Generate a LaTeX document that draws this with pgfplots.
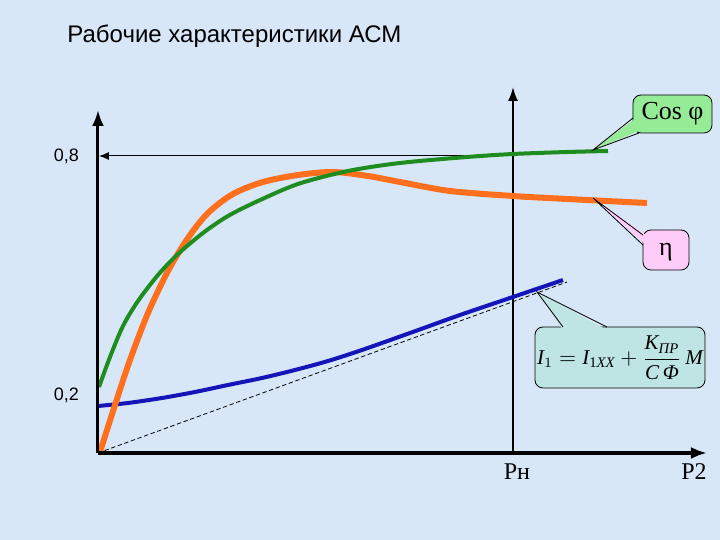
\documentclass[border=0pt]{standalone}
\usepackage{fontspec}
\setmainfont{Liberation Serif}
\newfontfamily\sansf{Liberation Sans}
\usepackage{amsmath}
\usepackage{pgfplots}
\pgfplotsset{compat=1.18}
\usetikzlibrary{arrows.meta}

\definecolor{bgblue}{RGB}{216,231,247}
\definecolor{cgreen}{RGB}{30,140,30}
\definecolor{corange}{RGB}{255,112,30}
\definecolor{cblue}{RGB}{20,20,185}
\definecolor{boxgreen}{RGB}{150,236,150}
\definecolor{boxpink}{RGB}{255,204,250}
\definecolor{boxteal}{RGB}{190,228,228}

\newcommand\ti[1]{\text{\itshape #1}}

% curves, in picture pixels measured from the origin of the axes
\pgfplotstableread{
x y
1 66
12 96
25 127
40 152
60 178
80 199
105 220
130 237
160 252
200 269
250 282
302 290
369 296
415 299
469 301
510 302
}\cosphi
\pgfplotstableread{
x y
2 1
17 48
32 93
50 140
70 182
90 215
110 240
135 259
165 271
200 278
235 281
270 277
302 271
352 262
415 257
469 254
549 250
}\eta
\pgfplotstableread{
x y
0 47
30 50
64 55
97 61
130 68
164 75
197 83
230 92
264 103
312 120
362 138
415 156
465 173
}\current

\begin{document}
\begin{tikzpicture}
\begin{axis}[
    scale only axis,
    x=0.5pt, y=0.5pt,
    xmin=0, xmax=609,
    ymin=0, ymax=343,
    axis lines=left,
    axis on top,
    clip=false,
    x axis line style={line width=2pt, -{Latex[length=8pt,width=6pt]}},
    y axis line style={line width=1.5pt, -{Latex[length=8pt,width=6pt]}},
    major tick length=0pt,
    ytick={58,297},
    yticklabels={{0,2},{0,8}},
    yticklabel style={font=\sansf\fontsize{9}{10}\selectfont, xshift=-6pt},
    xtick={419,596},
    xticklabels={Pн,P2},
    xticklabel style={font=\rmfamily\fontsize{12}{14}\selectfont, yshift=-2pt},
]
\fill[bgblue] (axis cs:-98,-87) rectangle (axis cs:622,453);

\node[anchor=base west, inner sep=0pt, font=\sansf\fontsize{12}{14}\selectfont]
    at (axis cs:-31,410) {Рабочие характеристики АСМ};

% rated-power line and 0,8 level
\draw[line width=1pt, -{Latex[length=7pt,width=5pt]}] (axis cs:415,0) -- (axis cs:415,366);
\draw[line width=0.5pt, -{Latex[length=5pt,width=4pt]}] (axis cs:415,297) -- (axis cs:1,297);

\addplot[black, line width=0.4pt, dash pattern=on 2.2pt off 1.3pt] coordinates {(0,0) (469,171)};
\addplot[cblue, line width=2pt, smooth] table {\current};
\addplot[corange, line width=3pt, smooth] table {\eta};
\addplot[cgreen, line width=2pt, smooth] table {\cosphi};

% callout: Cos phi
\draw[fill=boxgreen, line width=0.4pt, rounded corners=4pt] (axis cs:535,320) rectangle (axis cs:614,358);
\fill[boxgreen] (axis cs:538,335) -- (axis cs:495,303) -- (axis cs:543,323) -- cycle;
\draw[line width=0.4pt] (axis cs:535,335) -- (axis cs:495,303) -- (axis cs:541,320);
\node[font=\fontsize{13}{15}\selectfont] at (axis cs:574.5,339) {Cos φ};

% callout: eta
\draw[fill=boxpink, line width=0.4pt, rounded corners=4pt] (axis cs:545,183) rectangle (axis cs:591,223);
\fill[boxpink] (axis cs:548,218) -- (axis cs:495,255) -- (axis cs:548,208) -- cycle;
\draw[line width=0.4pt] (axis cs:545,218) -- (axis cs:495,255) -- (axis cs:545,208);
\node[font=\fontsize{13}{15}\selectfont] at (axis cs:568,201) {η};

% callout: current formula
\draw[fill=boxteal, line width=0.4pt, rounded corners=4pt] (axis cs:437,65) rectangle (axis cs:607,126);
\fill[boxteal] (axis cs:465,123) -- (axis cs:439,161) -- (axis cs:509,123) -- cycle;
\draw[line width=0.4pt] (axis cs:465,126) -- (axis cs:439,161) -- (axis cs:509,126);
\node[font=\fontsize{10.5}{12}\selectfont] at (axis cs:522,95)
    {$\ti{I}_{1} = \ti{I}_{\text{1\itshape XX}} + \dfrac{\ti{K}_{\ti{ПР}}}{\ti{C}\,\ti{Φ}}\,\ti{M}$};
\end{axis}
\end{tikzpicture}
\end{document}
